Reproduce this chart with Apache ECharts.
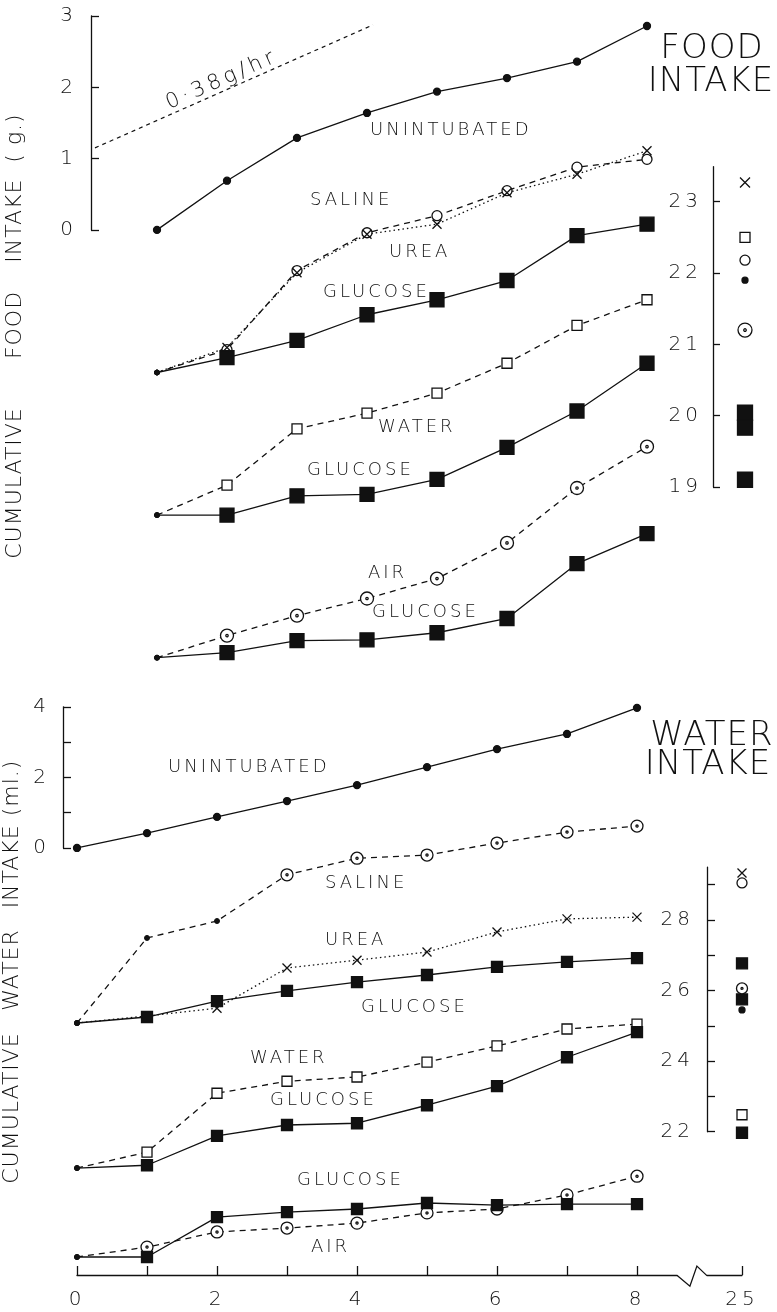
<!DOCTYPE html>
<html><head><meta charset="utf-8">
<script src="https://cdn.jsdelivr.net/npm/echarts@6/dist/echarts.min.js"></script>
<style>html,body{margin:0;padding:0;background:#fff}#c{width:777px;height:1312px}</style>
</head><body><div id="c"></div>
<script>
// ================= DATA =================
// Food panel: time index of each reading
const FOOD_T = [0, 1, 2, 3, 4, 5, 6, 7];
// cumulative food intake (g), each curve measured from its own start point
const foodUnintubated = [0, 0.69, 1.29, 1.64, 1.94, 2.13, 2.36, 2.86];
const foodSaline      = [0, 0.32, 1.43, 1.96, 2.20, 2.55, 2.88, 2.99];
const foodUrea        = [0, 0.35, 1.40, 1.94, 2.08, 2.52, 2.78, 3.11];
const foodGlucoseA    = [0, 0.21, 0.45, 0.81, 1.02, 1.29, 1.92, 2.08];
const foodWater       = [0, 0.42, 1.21, 1.43, 1.71, 2.13, 2.66, 3.02];
const foodGlucoseB    = [0, 0.00, 0.27, 0.29, 0.50, 0.95, 1.46, 2.13];
const foodAir         = [0, 0.31, 0.59, 0.83, 1.11, 1.61, 2.38, 2.96];
const foodGlucoseC    = [0, 0.07, 0.24, 0.25, 0.35, 0.55, 1.32, 1.74];
// reference rate line "0.38 g/hr"
const rateLineT = [-0.886, 3.086];
const rateLineG = [1.15, 2.875];
// food intake at 25 h (right-hand scale)
const food25Urea = [23.27];
const food25Water = [22.50];
const food25Saline = [22.18];
const food25Unintubated = [21.90];
const food25Air = [21.20];
const food25Glucose = [20.04, 19.83, 19.10];

// Water panel: hours
const WATER_HOURS = [0, 1, 2, 3, 4, 5, 6, 7, 8];
const waterUnintubated = [0, 0.42, 0.88, 1.33, 1.78, 2.29, 2.80, 3.23, 3.97];
const waterSaline      = [0, 2.41, 2.89, 4.20, 4.67, 4.76, 5.10, 5.41, 5.58];
const waterUrea        = [0, 0.20, 0.42, 1.56, 1.78, 2.01, 2.58, 2.95, 3.00];
const waterGlucoseA    = [0, 0.17, 0.62, 0.91, 1.16, 1.36, 1.59, 1.73, 1.84];
const waterWater       = [0, 0.45, 2.12, 2.46, 2.58, 3.00, 3.46, 3.94, 4.08];
const waterGlucoseB    = [0, 0.08, 0.91, 1.22, 1.27, 1.78, 2.32, 3.14, 3.85];
const waterAir         = [0, 0.28, 0.71, 0.82, 0.96, 1.25, 1.36, 1.76, 2.29];
const waterGlucoseC    = [0, 0.00, 1.13, 1.27, 1.36, 1.53, 1.47, 1.50, 1.50];
// water intake at 25 h
const LATE_HOUR = 25;
const water25Urea = [29.33];
const water25Saline = [29.05];
const water25Glucose = [26.77, 25.75, 21.97];
const water25Air = [26.06];
const water25Unintubated = [25.45];
const water25Water = [22.48];

// tick values / labels
const foodYTicks = [0, 1, 2, 3];
const foodInsetTicks = [19, 20, 21, 22, 23];
const waterYTicks = [0, 1, 2, 3, 4];
const waterYLabels = [0, 2, 4];
const waterInsetTicks = [22, 23, 24, 25, 26, 27, 28, 29];
const waterInsetLabels = [22, 24, 26, 28];
const hourTicks = [0, 1, 2, 3, 4, 5, 6, 7, 8];
const hourLabels = [0, 2, 4, 6, 8];

// ================= LAYOUT (not data) =================
const F_PX = 71.3, W_PX = 35.3, T_PX = 70;
const FOOD_OFF = [0, -2, -4, -6];
const WATER_OFF = [0, -4.96, -9.07, -11.59];
const W_TOP = 706.8, W_MIN = -12.1, W_MAX = 4;
const W_H = (W_MAX - W_MIN) * W_PX;
const W_XMAX = 8.57;
const INSET_W_TOP = 920 - 1.5 * W_PX;

// letter spacing for the hand-lettered look
(function () {
  const P = CanvasRenderingContext2D.prototype;
  const SP = {18: 3, 20: 4, 21: 4, 22: 1, 34: 1};
  function ap(ctx) {
    const m = /(\d+(?:\.\d+)?)px/.exec(ctx.font || '');
    const s = m ? (SP[Math.round(+m[1])] || 0) : 0;
    try { ctx.letterSpacing = s + 'px'; } catch (e) {}
  }
  const f = P.fillText, mt = P.measureText;
  P.fillText = function () { ap(this); return f.apply(this, arguments); };
  P.measureText = function () { ap(this); return mt.apply(this, arguments); };
})();

const INK = '#111';
const FONT = '"DejaVu Sans", "Liberation Sans", sans-serif';
const WEIGHT = 200;
const SYM = {
  dot: {symbol: 'circle', fill: INK},
  square: {symbol: 'rect', fill: INK},
  openSquare: {symbol: 'rect', fill: '#fff'},
  openCircle: {symbol: 'circle', fill: '#fff'},
  cross: {symbol: 'path://M0,0L10,10M10,0L0,10', fill: 'none'},
  dotCircle: {symbol: 'path://M12,6A6,6,0,1,1,0,6A6,6,0,1,1,12,6ZM7.1,6A1.1,1.1,0,1,1,4.9,6A1.1,1.1,0,1,1,7.1,6Z', fill: '#fff'}
};

function lineSeries(axis, xs, vals, offset, kind, size, dash, smallIdx) {
  const s = SYM[kind];
  return {
    type: 'line', xAxisIndex: axis, yAxisIndex: axis, silent: true,
    data: vals.map(function (v, i) {
      const item = {value: [xs[i], v + offset]};
      if (smallIdx.indexOf(i) >= 0) {
        item.symbol = 'circle'; item.symbolSize = 5;
        item.itemStyle = {color: INK, borderColor: INK, borderWidth: 1};
      }
      return item;
    }),
    symbol: s.symbol, symbolSize: size, showAllSymbol: true,
    itemStyle: {color: s.fill, borderColor: INK, borderWidth: 1.3},
    lineStyle: {color: INK, width: 1.3, type: dash},
    emphasis: {disabled: true}
  };
}
function insetSeries(axis, vals, kind, size) {
  const s = SYM[kind];
  return {
    type: 'scatter', xAxisIndex: axis, yAxisIndex: axis, silent: true, clip: false,
    data: vals.map(function (v) { return [LATE_HOUR, v]; }),
    symbol: s.symbol, symbolSize: size,
    itemStyle: {color: s.fill, borderColor: INK, borderWidth: 1.3, opacity: 1},
    emphasis: {disabled: true}
  };
}

const DASH = [6, 5], DOT = [1.5, 3];
const series = [
  // food
  {type: 'line', xAxisIndex: 0, yAxisIndex: 0, silent: true, symbol: 'none',
   data: rateLineT.map(function (t, i) { return [t, rateLineG[i]]; }),
   lineStyle: {color: INK, width: 1.2, type: [4, 4]}},
  lineSeries(0, FOOD_T, foodUnintubated, FOOD_OFF[0], 'dot', 7, 'solid', []),
  lineSeries(0, FOOD_T, foodSaline, FOOD_OFF[1], 'openCircle', 10, DASH, [0]),
  lineSeries(0, FOOD_T, foodUrea, FOOD_OFF[1], 'cross', 9, DOT, [0]),
  lineSeries(0, FOOD_T, foodGlucoseA, FOOD_OFF[1], 'square', 14, 'solid', [0]),
  lineSeries(0, FOOD_T, foodWater, FOOD_OFF[2], 'openSquare', 10, DASH, [0]),
  lineSeries(0, FOOD_T, foodGlucoseB, FOOD_OFF[2], 'square', 14, 'solid', [0]),
  lineSeries(0, FOOD_T, foodAir, FOOD_OFF[3], 'dotCircle', 13, DASH, [0]),
  lineSeries(0, FOOD_T, foodGlucoseC, FOOD_OFF[3], 'square', 14, 'solid', [0]),
  insetSeries(2, food25Urea, 'cross', 10),
  insetSeries(2, food25Water, 'openSquare', 10),
  insetSeries(2, food25Saline, 'openCircle', 10),
  insetSeries(2, food25Unintubated, 'dot', 6),
  insetSeries(2, food25Air, 'dotCircle', 14),
  insetSeries(2, food25Glucose, 'square', 15),
  // water
  lineSeries(3, WATER_HOURS, waterUnintubated, WATER_OFF[0], 'dot', 7, 'solid', []),
  lineSeries(3, WATER_HOURS, waterSaline, WATER_OFF[1], 'dotCircle', 12, DASH, [0, 1, 2]),
  lineSeries(3, WATER_HOURS, waterUrea, WATER_OFF[1], 'cross', 9, DOT, [0]),
  lineSeries(3, WATER_HOURS, waterGlucoseA, WATER_OFF[1], 'square', 11, 'solid', [0]),
  lineSeries(3, WATER_HOURS, waterWater, WATER_OFF[2], 'openSquare', 10, DASH, [0]),
  lineSeries(3, WATER_HOURS, waterGlucoseB, WATER_OFF[2], 'square', 11, 'solid', [0]),
  lineSeries(3, WATER_HOURS, waterAir, WATER_OFF[3], 'dotCircle', 12, DASH, [0]),
  lineSeries(3, WATER_HOURS, waterGlucoseC, WATER_OFF[3], 'square', 11, 'solid', [0]),
  insetSeries(5, water25Urea, 'cross', 9),
  insetSeries(5, water25Saline, 'openCircle', 10),
  insetSeries(5, water25Glucose, 'square', 11),
  insetSeries(5, water25Air, 'dotCircle', 11),
  insetSeries(5, water25Unintubated, 'dot', 6),
  insetSeries(5, water25Water, 'openSquare', 10)
];

const LS = {color: INK, width: 1.3};
const LBL = {color: INK, fontSize: 20, fontFamily: FONT, fontWeight: WEIGHT};
function hidden(grid, min, max) { return {gridIndex: grid, type: 'value', min: min, max: max, show: false}; }

const grid = [
  {left: 87, top: 16, width: 9 * T_PX, height: 9.5 * F_PX},                 // 0 food data
  {left: 91, top: 16, width: 10, height: 3 * F_PX},                          // 1 food axis
  {left: 713, top: 273 - 1.49 * F_PX, width: T_PX, height: 4.49 * F_PX},     // 2 food 25h
  {left: 77, top: W_TOP, width: W_XMAX * T_PX, height: W_H},                 // 3 water data
  {left: 63, top: W_TOP, width: 10, height: 4 * W_PX},                       // 4 water axis
  {left: 707, top: INSET_W_TOP, width: 0.5 * T_PX, height: 7.5 * W_PX}       // 5 water 25h
];

const xAxis = [
  hidden(0, -1, 8), hidden(1, 0, 1), hidden(2, 24.5, 25.5),
  {gridIndex: 3, type: 'value', min: 0, max: W_XMAX,
   axisLine: {show: true, onZero: false, lineStyle: LS},
   axisTick: {show: true, inside: true, length: 9, customValues: hourTicks, lineStyle: LS},
   axisLabel: Object.assign({customValues: hourLabels, margin: 13}, LBL),
   splitLine: {show: false}},
  hidden(4, 0, 1),
  {gridIndex: 5, type: 'value', min: 24.5, max: LATE_HOUR,
   offset: (W_TOP + W_H) - (INSET_W_TOP + 7.5 * W_PX),
   axisLine: {show: true, onZero: false, lineStyle: LS},
   axisTick: {show: true, inside: true, length: 9, customValues: [LATE_HOUR], lineStyle: LS},
   axisLabel: Object.assign({customValues: [LATE_HOUR], margin: 13, showMaxLabel: true}, LBL),
   splitLine: {show: false}}
];
function yVis(grid, min, max, ticks, labels, margin, tlen) {
  return {gridIndex: grid, type: 'value', min: min, max: max,
    axisLine: {show: true, onZero: false, lineStyle: LS},
    axisTick: {show: true, inside: true, length: tlen, customValues: ticks, lineStyle: LS},
    axisLabel: Object.assign({customValues: labels, margin: margin}, LBL),
    splitLine: {show: false}};
}
const yAxis = [
  hidden(0, -6.5, 3),
  yVis(1, 0, 3, foodYTicks, foodYTicks, 14, 8),
  yVis(2, 19, 23.49, foodInsetTicks, foodInsetTicks, 11, 7),
  hidden(3, W_MIN, W_MAX),
  yVis(4, 0, 4, waterYTicks, waterYLabels, 13, 8),
  yVis(5, 22, 29.5, waterInsetTicks, waterInsetLabels, 13, 8)
];

function txt(text, x, y, size, opts) {
  opts = opts || {};
  return {type: 'text', x: x, y: y, rotation: opts.rot || 0, silent: true, z: 50,
    style: {text: text, font: WEIGHT + ' ' + size + 'px ' + FONT, fill: INK,
      align: opts.align || 'left', verticalAlign: 'middle',
      textAlign: opts.align || 'left', textVerticalAlign: 'middle'}};
}
const V = Math.PI / 2;
const axisEndX = 77 + W_XMAX * T_PX, axisY = W_TOP + W_H;
const graphic = [
  txt('FOOD', 712, 49, 34, {align: 'center'}),
  txt('INTAKE', 711, 82, 34, {align: 'center'}),
  txt('WATER', 712, 736, 34, {align: 'center'}),
  txt('INTAKE', 708, 765, 34, {align: 'center'}),
  txt('INTAKE  ( g.)', 15, 188, 22, {align: 'center', rot: V}),
  txt('FOOD', 15, 325, 22, {align: 'center', rot: V}),
  txt('CUMULATIVE', 15, 483, 22, {align: 'center', rot: V}),
  txt('INTAKE (ml.)', 12, 834, 22, {align: 'center', rot: V}),
  txt('WATER', 12, 970, 22, {align: 'center', rot: V}),
  txt('CUMULATIVE', 12, 1108, 22, {align: 'center', rot: V}),
  txt('0·38g/hr', 222, 80, 21, {align: 'center', rot: 0.417}),
  txt('UNINTUBATED', 370, 130, 18), txt('SALINE', 310, 200, 18), txt('UREA', 389, 252, 18),
  txt('GLUCOSE', 323, 292, 18), txt('WATER', 378, 427, 18), txt('GLUCOSE', 307, 470, 18),
  txt('AIR', 368, 573, 18), txt('GLUCOSE', 372, 612, 18),
  txt('UNINTUBATED', 168, 767, 18), txt('SALINE', 325, 883, 18), txt('UREA', 325, 940, 18),
  txt('GLUCOSE', 361, 1007, 18), txt('WATER', 250, 1058, 18), txt('GLUCOSE', 270, 1100, 18),
  txt('GLUCOSE', 297, 1180, 18), txt('AIR', 311, 1247, 18),
  {type: 'polyline', silent: true, z: 50,
   shape: {points: [[axisEndX, axisY], [axisEndX + 13, axisY + 11], [axisEndX + 20, axisY - 9], [axisEndX + 30, axisY + 0.5]]},
   style: {stroke: INK, lineWidth: 1.3, fill: null}}
];

const chart = echarts.init(document.getElementById('c'), null, {renderer: 'canvas'});
chart.setOption({
  backgroundColor: '#fff', animation: false,
  grid: grid, xAxis: xAxis, yAxis: yAxis, series: series, graphic: graphic
});
</script></body></html>
